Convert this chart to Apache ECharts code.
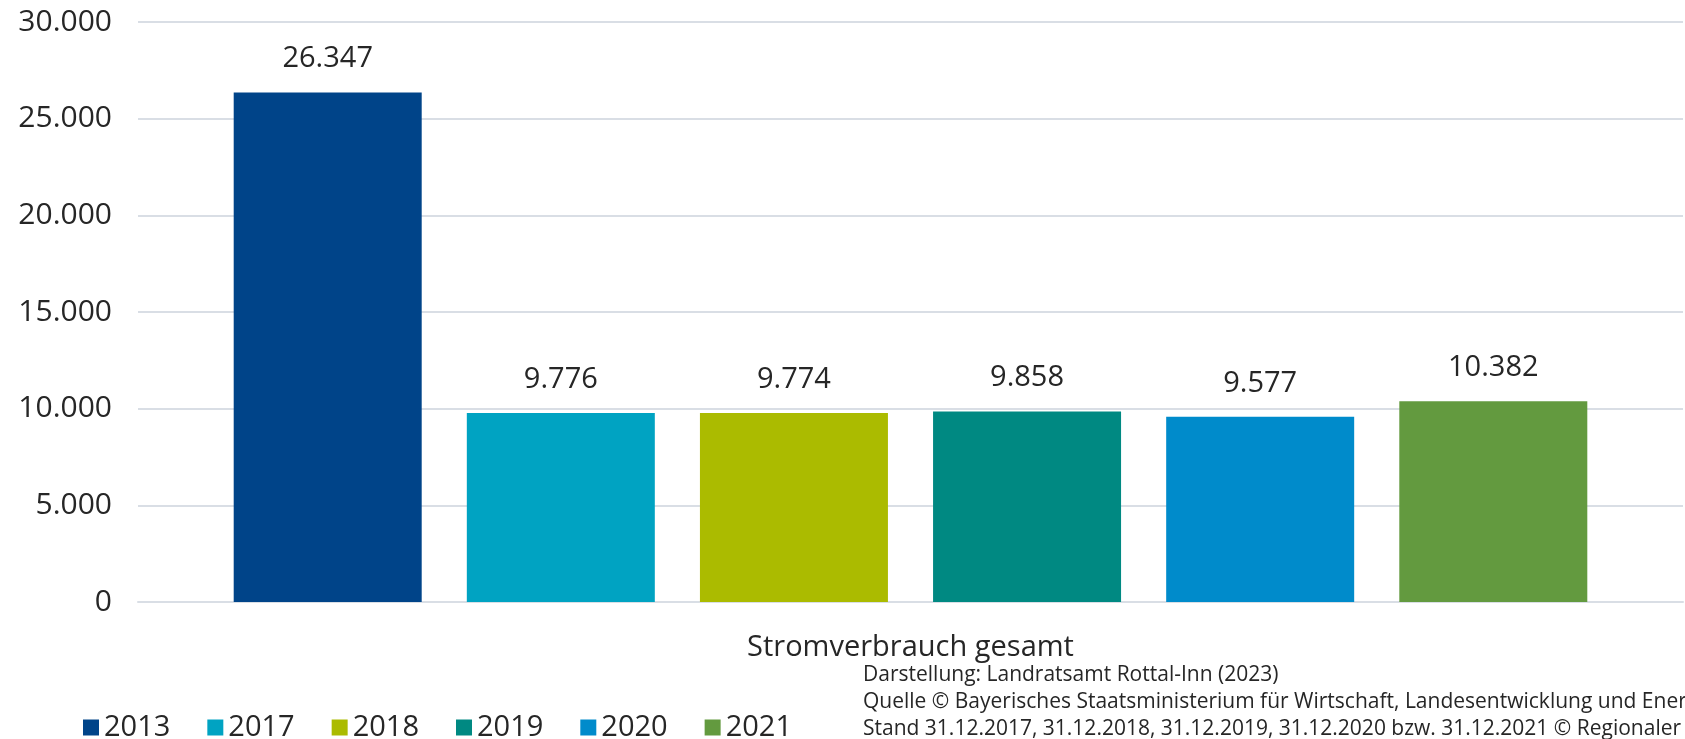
<!DOCTYPE html>
<html>
<head>
<meta charset="utf-8">
<script src="https://cdn.jsdelivr.net/npm/echarts@6/dist/echarts.min.js"></script>
<style>
  html, body { margin: 0; padding: 0; background: #fff; }
  #chart { width: 1685px; height: 739px; }
</style>
</head>
<body>
<div id="chart"></div>
<script>
// Daten
const categories = ['Stromverbrauch gesamt']
const years = ['2013', '2017', '2018', '2019', '2020', '2021']
const values = [26347, 9776, 9774, 9858, 9577, 10382]
const colors = ['#004489', '#00A3C2', '#ABBB00', '#008982', '#008BCB', '#639A3F']
const sourceLines = [
  'Darstellung: Landratsamt Rottal-Inn (2023)',
  'Quelle © Bayerisches Staatsministerium für Wirtschaft, Landesentwicklung und Energie',
  'Stand 31.12.2017, 31.12.2018, 31.12.2019, 31.12.2020 bzw. 31.12.2021 © Regionaler'
]

const font = "'Open Sans', sans-serif"
const fmt = v => String(v).replace(/\B(?=(\d{3})+(?!\d))/g, '.')

const series = years.map((y, i) => ({
  name: y,
  type: 'bar',
  data: [values[i]],
  barWidth: 188,
  barGap: '24%',
  itemStyle: { color: colors[i] },
  label: {
    show: true,
    position: 'top',
    distance: 19,
    color: '#262626',
    fontFamily: font,
    fontSize: 29,
    formatter: p => fmt(p.value)
  }
}))

const chart = echarts.init(document.getElementById('chart'))
chart.setOption({
  animation: false,
  grid: { left: 138, right: 2, top: 22, bottom: 137 },
  legend: {
    left: 78,
    top: 708,
    itemWidth: 16,
    itemHeight: 16,
    itemGap: 37,
    icon: 'rect',
    textStyle: { fontFamily: font, fontSize: 29, color: '#262626' },
    data: years
  },
  xAxis: {
    type: 'category',
    data: categories,
    axisLine: { show: true, lineStyle: { color: '#D9DEE5', width: 2 } },
    axisTick: { show: false },
    axisLabel: { fontFamily: font, fontSize: 29, color: '#262626', margin: 31 }
  },
  yAxis: {
    type: 'value',
    min: 0,
    max: 30000,
    interval: 5000,
    axisLine: { show: false },
    axisTick: { show: false },
    splitLine: { lineStyle: { color: '#D9DEE5', width: 2 } },
    axisLabel: { fontFamily: font, fontSize: 30, color: '#262626', margin: 26, formatter: fmt }
  },
  series: series,
  graphic: sourceLines.map((t, i) => ({
    type: 'text',
    left: 863,
    top: 665 + i * 27,
    style: { text: t, fontFamily: font, fontSize: 21, fill: '#262626' }
  }))
})
</script>
</body>
</html>
